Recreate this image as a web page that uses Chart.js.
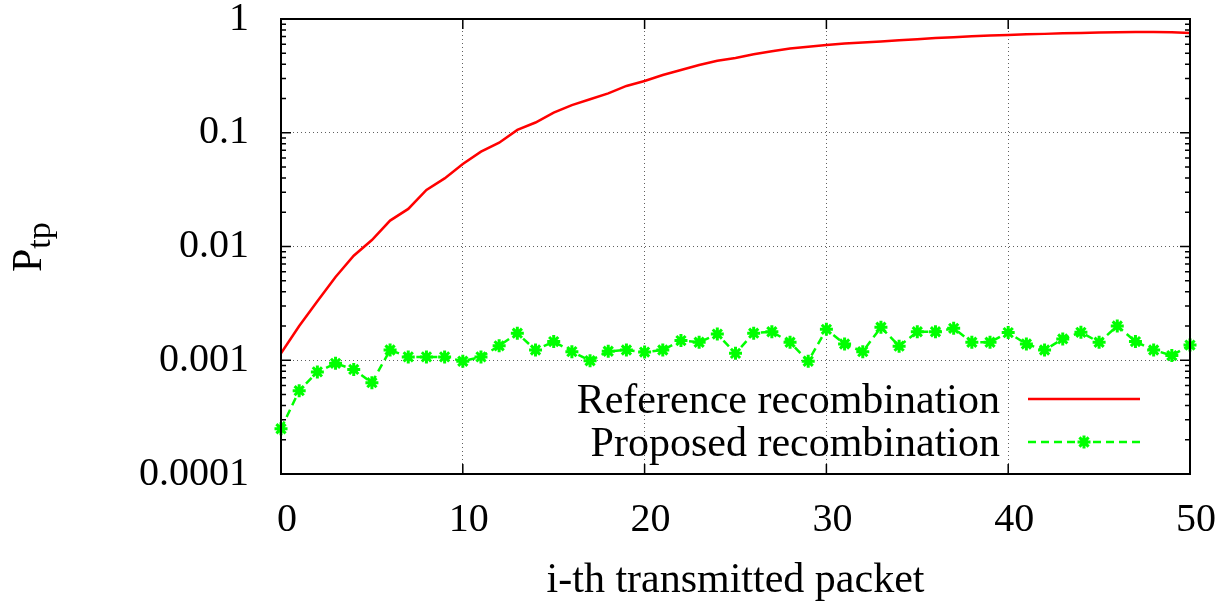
<!DOCTYPE html>
<html>
<head>
<meta charset="utf-8">
<script src="https://cdn.jsdelivr.net/npm/chart.js@4.4.1/dist/chart.umd.min.js"></script>
<style>
  html, body { margin: 0; padding: 0; background: #fff; }
  #wrap { width: 1230px; height: 608px; }
</style>
</head>
<body>
<div id="wrap"><canvas id="chart" width="1230" height="608"></canvas></div>
<script>
// data
const packets = [0,1,2,3,4,5,6,7,8,9,10,11,12,13,14,15,16,17,18,19,20,21,22,23,24,25,
  26,27,28,29,30,31,32,33,34,35,36,37,38,39,40,41,42,43,44,45,46,47,48,49,50];
const reference = [0.00115,0.0020,0.0033,0.0054,0.0083,0.0114,0.0169,0.0214,0.0314,0.0397,
  0.0531,0.0682,0.0818,0.106,0.123,0.150,0.175,0.197,0.222,0.258,
  0.285,0.322,0.356,0.394,0.430,0.455,0.49,0.52,0.55,0.57,
  0.59,0.61,0.62,0.635,0.65,0.665,0.68,0.69,0.705,0.715,
  0.725,0.735,0.74,0.75,0.755,0.76,0.765,0.77,0.77,0.765,0.755];
const proposed = [0.00025,0.00054,0.00079,0.00094,0.00083,0.000635,0.00123,0.00107,0.00107,0.00107,
  0.00098,0.00107,0.00134,0.00173,0.00123,0.00146,0.00119,0.00099,0.0012,0.00123,
  0.00118,0.00123,0.00149,0.00144,0.0017,0.00115,0.00173,0.00178,0.00144,0.00098,
  0.00187,0.00139,0.00119,0.00195,0.00133,0.00178,0.00178,0.00191,0.00144,0.00144,
  0.00175,0.00139,0.00123,0.00154,0.00176,0.00144,0.002,0.00146,0.00123,0.0011,0.00136];
const seriesNames = ['Reference recombination', 'Proposed recombination'];
const yTicks = [0.0001, 0.001, 0.01, 0.1, 1];
const yTickLabels = ['0.0001', '0.001', '0.01', '0.1', '1'];
const xTicks = [0, 10, 20, 30, 40, 50];

const FONT = 'Liberation Serif, Times New Roman, serif';
const RED = '#ff0000';
const GREEN = '#00ff00';

// gnuplot style frame: border, inside ticks, y title, key
const gnuplotFrame = {
  id: 'gnuplotFrame',
  afterDatasetsDraw(chart) {
    const ctx = chart.ctx;
    const a = chart.chartArea;
    const xs = chart.scales.x, ys = chart.scales.y;
    ctx.save();
    ctx.strokeStyle = '#000';
    ctx.lineWidth = 1.5;
    ctx.beginPath();
    // y ticks, both sides
    yTicks.forEach((v, i) => {
      const py = ys.getPixelForValue(v);
      ctx.moveTo(a.left, py); ctx.lineTo(a.left + 10, py);
      ctx.moveTo(a.right, py); ctx.lineTo(a.right - 10, py);
      if (i < yTicks.length - 1) {
        for (let m = 2; m <= 9; m++) {
          const my = ys.getPixelForValue(v * m);
          ctx.moveTo(a.left, my); ctx.lineTo(a.left + 5, my);
          ctx.moveTo(a.right, my); ctx.lineTo(a.right - 5, my);
        }
      }
    });
    // x ticks, top and bottom
    xTicks.forEach(v => {
      const px = xs.getPixelForValue(v);
      ctx.moveTo(px, a.bottom); ctx.lineTo(px, a.bottom - 10);
      ctx.moveTo(px, a.top); ctx.lineTo(px, a.top + 10);
    });
    ctx.stroke();
    ctx.lineWidth = 2;
    ctx.strokeRect(a.left, a.top, a.right - a.left, a.bottom - a.top);

    // y title: P with subscript tp
    ctx.fillStyle = '#000';
    ctx.translate(41, 272);
    ctx.rotate(-Math.PI / 2);
    ctx.textBaseline = 'alphabetic';
    ctx.textAlign = 'left';
    ctx.font = '42px ' + FONT;
    ctx.fillText('P', 0, 0);
    const pw = ctx.measureText('P').width;
    ctx.font = '34px ' + FONT;
    ctx.fillText('tp', pw, 9);
    ctx.restore();

    // key
    ctx.save();
    ctx.font = '42px ' + FONT;
    ctx.fillStyle = '#000';
    ctx.textAlign = 'right';
    ctx.textBaseline = 'alphabetic';
    const rows = [399, 442];
    chart.data.datasets.forEach((ds, i) => {
      const y = rows[i];
      ctx.fillText(ds.label, 1000, y + 14);
      ctx.strokeStyle = ds.borderColor;
      ctx.lineWidth = ds.borderWidth;
      ctx.setLineDash(ds.borderDash || []);
      ctx.beginPath();
      ctx.moveTo(1028, y); ctx.lineTo(1140, y);
      ctx.stroke();
      ctx.setLineDash([]);
      if (ds.pointRadius > 0) {
        ctx.strokeStyle = ds.pointBorderColor;
        ctx.fillStyle = ds.pointBorderColor;
        ctx.lineWidth = ds.pointBorderWidth;
        Chart.helpers.drawPoint(ctx, {
          pointStyle: ds.pointStyle, radius: ds.pointRadius,
          borderWidth: ds.pointBorderWidth, rotation: 0
        }, 1084, y);
      }
    });
    ctx.restore();
  }
};

new Chart(document.getElementById('chart'), {
  type: 'line',
  data: {
    datasets: [{
      label: seriesNames[0],
      data: packets.map((p, i) => ({ x: p, y: reference[i] })),
      borderColor: RED,
      backgroundColor: RED,
      borderWidth: 2.5,
      pointRadius: 0,
      tension: 0,
      fill: false
    }, {
      label: seriesNames[1],
      data: packets.map((p, i) => ({ x: p, y: proposed[i] })),
      borderColor: GREEN,
      backgroundColor: GREEN,
      borderWidth: 2.5,
      borderDash: [8, 5],
      pointStyle: 'star',
      pointRadius: 6.5,
      pointBorderWidth: 3,
      pointBorderColor: GREEN,
      tension: 0,
      fill: false,
      clip: 12
    }]
  },
  options: {
    responsive: false,
    animation: false,
    events: [],
    layout: { autoPadding: false, padding: { top: 19, right: 40, left: 0, bottom: 0 } },
    plugins: { legend: { display: false }, tooltip: { enabled: false } },
    scales: {
      x: {
        type: 'linear', min: 0, max: 50,
        afterBuildTicks: s => { s.ticks = xTicks.map(v => ({ value: v })); },
        afterFit: s => { s.height = 134; s.paddingLeft = 0; s.paddingRight = 0; },
        ticks: { color: '#000', font: { family: FONT, size: 40 }, padding: 22, labelOffset: 6, maxRotation: 0 },
        grid: { color: '#606060', lineWidth: 1, drawTicks: false },
        border: { display: false, dash: [1, 3] },
        title: { display: true, text: 'i-th transmitted packet', color: '#000',
          font: { family: FONT, size: 42 }, padding: { top: 0, bottom: 2 } }
      },
      y: {
        type: 'logarithmic', min: 0.0001, max: 1,
        afterBuildTicks: s => { s.ticks = yTicks.map(v => ({ value: v })); },
        afterFit: s => { s.width = 281; s.paddingTop = 0; s.paddingBottom = 0; },
        ticks: {
          color: '#000', font: { family: FONT, size: 40 }, padding: 32,
          callback: (v) => { const i = yTicks.indexOf(v); return i >= 0 ? yTickLabels[i] : ''; }
        },
        grid: { color: '#606060', lineWidth: 1, drawTicks: false },
        border: { display: false, dash: [1, 3] }
      }
    }
  },
  plugins: [gnuplotFrame]
});
</script>
</body>
</html>
